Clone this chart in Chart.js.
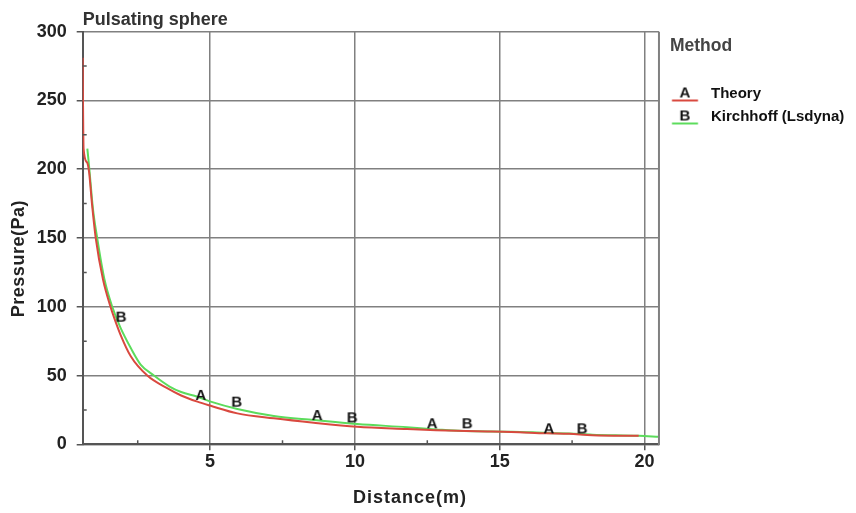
<!DOCTYPE html>
<html>
<head>
<meta charset="utf-8">
<script src="https://cdn.jsdelivr.net/npm/chart.js@4.4.1/dist/chart.umd.min.js"></script>
<style>
html,body{margin:0;padding:0;background:#ffffff;}
#wrap{width:856px;height:513px;}
</style>
</head>
<body>
<div id="wrap"><canvas id="c" width="856" height="513"></canvas></div>
<script>
// ---- data ----
const chartTitle = 'Pulsating sphere';
const xAxisTitle = 'Distance(m)';
const yAxisTitle = 'Pressure(Pa)';
const legendTitle = 'Method';
const seriesNames = ['Theory', 'Kirchhoff (Lsdyna)'];
const seriesLetters = ['A', 'B'];

const theoryX = [0.6, 0.61, 0.63, 0.75, 0.82, 0.92, 1.05, 1.3, 1.56, 1.67, 1.9, 2.26, 2.83, 3.5, 4.0, 4.56, 5.02, 5.94, 7.2, 8.58, 10.08, 11.8, 12.8, 14.2, 15.4, 16.6, 17.4, 18.2, 19.8];
const theoryP = [281, 250, 215, 205, 198, 175, 150, 120, 100, 93, 80, 64, 50, 41, 35.5, 31, 28, 22.5, 18.9, 15.7, 12.8, 11.1, 10.2, 9.4, 9.0, 8.0, 7.6, 6.6, 6.2];

const kirchX = [0.76, 0.83, 0.95, 1.1, 1.35, 1.62, 1.9, 2.26, 2.6, 3.06, 3.6, 4.0, 4.56, 5.02, 5.94, 7.2, 8.58, 10.08, 11.8, 12.8, 13.75, 15.4, 16.6, 17.4, 18.2, 19.8, 20.5];
const kirchP = [215, 200, 172, 150, 120, 100, 85, 70, 58, 50, 42, 38, 34.6, 31, 25.7, 20.6, 17.7, 14.8, 12.4, 10.8, 9.6, 9.2, 8.3, 7.8, 7.0, 6.2, 5.5];

const markerAX = [4.68, 8.7, 12.67, 16.7];
const markerAP = [35.9, 21.3, 15.3, 11.6];
const markerBX = [1.93, 5.92, 9.91, 13.88, 17.85];
const markerBP = [92.8, 31, 19.6, 15.3, 11.6];

const xMajorTicks = [5, 10, 15, 20];
const xMinorTicks = [2.5, 7.5, 12.5, 17.5];
const yMajorTicks = [0, 50, 100, 150, 200, 250, 300];
const yMinorTicks = [25, 75, 125, 175, 225, 275];

// ---- styling helpers ----
const FONT = '"Liberation Sans", Arial, Helvetica, sans-serif';
Chart.defaults.font.family = FONT;
const RED = '#d9493f';
const GREEN = '#5cdc5c';
const GRID = '#808080';
const AXIS = '#555555';

function letterCanvas(ch) {
  const c = document.createElement('canvas');
  c.width = 18; c.height = 18;
  const g = c.getContext('2d');
  g.font = 'bold 15px ' + FONT;
  g.fillStyle = '#111111';
  g.textAlign = 'center';
  g.textBaseline = 'middle';
  g.fillText(ch, 9, 9.5);
  return c;
}
function legendCanvas(ch, color) {
  const c = document.createElement('canvas');
  c.width = 40; c.height = 24;
  const g = c.getContext('2d');
  g.strokeStyle = color;
  g.lineWidth = 2;
  g.beginPath(); g.moveTo(1.25, 19); g.lineTo(27.25, 19); g.stroke();
  g.font = 'bold 15px ' + FONT;
  g.fillStyle = '#111111';
  g.textAlign = 'center';
  g.textBaseline = 'middle';
  g.fillText(ch, 14.25, 11.5);
  return c;
}
const toXY = (xs, ys) => xs.map((x, i) => ({x: x, y: ys[i]}));

const extras = {
  id: 'extras',
  afterDraw(chart) {
    const {ctx, chartArea, scales} = chart;
    const xs = scales.x, ys = scales.y;
    ctx.save();
    // right frame of the plot
    ctx.strokeStyle = GRID;
    ctx.lineWidth = 2;
    ctx.beginPath();
    ctx.moveTo(chartArea.right, chartArea.top);
    ctx.lineTo(chartArea.right, chartArea.bottom + 1);
    ctx.stroke();
    // minor ticks, pointing inside
    ctx.strokeStyle = AXIS;
    ctx.lineWidth = 1.5;
    ctx.beginPath();
    xMinorTicks.forEach(v => {
      const px = xs.getPixelForValue(v);
      ctx.moveTo(px, chartArea.bottom);
      ctx.lineTo(px, chartArea.bottom - 4);
    });
    yMinorTicks.forEach(v => {
      const py = ys.getPixelForValue(v);
      ctx.moveTo(chartArea.left, py);
      ctx.lineTo(chartArea.left + 4, py);
    });
    ctx.stroke();
    // axis titles
    ctx.fillStyle = '#222222';
    ctx.font = 'bold 18px ' + FONT;
    ctx.textAlign = 'center';
    ctx.textBaseline = 'middle';
    ctx.letterSpacing = '1px';
    ctx.fillText(xAxisTitle, xs.getPixelForValue(11.9), chartArea.bottom + 54);
    ctx.letterSpacing = '0.5px';
    ctx.translate(chartArea.left - 64, ys.getPixelForValue(135));
    ctx.rotate(-Math.PI / 2);
    ctx.fillText(yAxisTitle, 0, 0);
    ctx.restore();
  }
};

new Chart(document.getElementById('c'), {
  type: 'line',
  data: {
    datasets: [
      {
        label: seriesNames[0],
        data: toXY(theoryX, theoryP),
        borderColor: RED,
        backgroundColor: RED,
        borderWidth: 2,
        pointRadius: 0,
        pointStyle: legendCanvas(seriesLetters[0], RED),
        cubicInterpolationMode: 'monotone',
        fill: false,
        order: 2
      },
      {
        label: seriesNames[1],
        data: toXY(kirchX, kirchP),
        borderColor: GREEN,
        backgroundColor: GREEN,
        borderWidth: 2,
        pointRadius: 0,
        pointStyle: legendCanvas(seriesLetters[1], GREEN),
        cubicInterpolationMode: 'monotone',
        fill: false,
        order: 3
      },
      {
        label: 'A markers',
        data: toXY(markerAX, markerAP),
        showLine: false,
        pointRadius: 6,
        pointStyle: letterCanvas(seriesLetters[0]),
        order: 1
      },
      {
        label: 'B markers',
        data: toXY(markerBX, markerBP),
        showLine: false,
        pointRadius: 6,
        pointStyle: letterCanvas(seriesLetters[1]),
        order: 1
      }
    ]
  },
  options: {
    responsive: false,
    animation: false,
    events: [],
    devicePixelRatio: 1,
    layout: {padding: {top: 0, left: 0, right: 1.7, bottom: 0}},
    plugins: {
      title: {
        display: true, text: chartTitle, align: 'start', fullSize: false,
        color: '#333333', font: {size: 18, weight: 'bold'},
        padding: {top: 9.5, bottom: 0.6}
      },
      legend: {
        display: true, position: 'right', align: 'start', fullSize: false,
        title: {
          display: true, text: legendTitle, position: 'start', color: '#444444',
          font: {size: 17.5, weight: 'bold'}, padding: {top: 5.8, bottom: 19.5}
        },
        labels: {
          usePointStyle: true, pointStyleWidth: 25.5, padding: 8,
          color: '#111111', font: {size: 15, weight: 'bold'},
          filter: item => item.datasetIndex < 2
        }
      },
      tooltip: {enabled: false}
    },
    scales: {
      x: {
        type: 'linear', position: 'bottom', min: 0.6, max: 20.5,
        afterBuildTicks: s => { s.ticks = xMinorTicks.concat(xMajorTicks).sort((a, b) => a - b).map(v => ({value: v})); },
        afterFit: s => { s.height = 68.7; },
        ticks: {
          autoSkip: false, maxRotation: 0, padding: 1, color: '#222222',
          font: {size: 18, weight: 'bold'},
          callback: v => xMajorTicks.includes(v) ? String(v) : ''
        },
        grid: {
          color: c => (c.tick && xMajorTicks.includes(c.tick.value)) ? GRID : 'rgba(0,0,0,0)',
          lineWidth: 1.5, tickLength: 6, tickWidth: 1.5,
          tickColor: c => (c.tick && xMajorTicks.includes(c.tick.value)) ? AXIS : 'rgba(0,0,0,0)'
        },
        border: {display: true, color: AXIS, width: 2}
      },
      y: {
        type: 'linear', position: 'left', min: 0, max: 300,
        afterBuildTicks: s => { s.ticks = yMinorTicks.concat(yMajorTicks).sort((a, b) => a - b).map(v => ({value: v})); },
        afterFit: s => { s.width = 82.7; },
        ticks: {
          autoSkip: false, padding: 10, color: '#222222',
          font: {size: 18, weight: 'bold'},
          callback: v => yMajorTicks.includes(v) ? String(v) : ''
        },
        grid: {
          color: c => (c.tick && yMajorTicks.includes(c.tick.value)) ? GRID : 'rgba(0,0,0,0)',
          lineWidth: 1.5, tickLength: 6, tickWidth: 1.5,
          tickColor: c => (c.tick && yMajorTicks.includes(c.tick.value)) ? AXIS : 'rgba(0,0,0,0)'
        },
        border: {display: true, color: AXIS, width: 2}
      },
      y2: {
        type: 'linear', position: 'right', min: 0, max: 300, display: false,
        afterFit: s => { s.width = 11; }
      }
    }
  },
  plugins: [extras]
});
</script>
</body>
</html>
